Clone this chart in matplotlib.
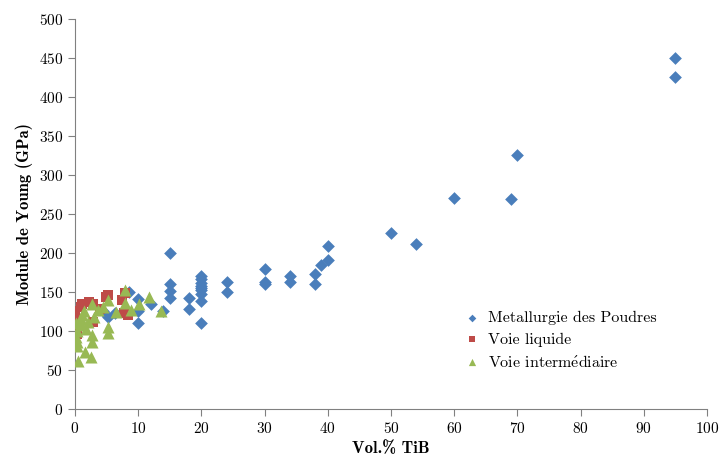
import matplotlib
matplotlib.use("Agg")
import matplotlib.pyplot as plt

plt.rcParams['font.family'] = ['cmr10', 'DejaVu Serif']
plt.rcParams['axes.formatter.use_mathtext'] = True
plt.rcParams['mathtext.fontset'] = 'cm'

# ---------------- donnees ----------------
mp_x = [95, 95, 70, 69, 60, 54, 50, 40, 40, 39, 38, 38, 34, 34, 30, 30, 30,
        24, 24, 20, 20, 20, 20, 20, 20, 20, 20, 20, 18, 18, 15, 15, 15, 15,
        14, 12, 10, 10, 10, 8.6, 6.3, 5.3, 4.5]
mp_y = [450, 425, 326, 269, 271, 211, 226, 209, 191, 184, 173, 160, 171, 163, 179, 163, 160,
        163, 150, 170, 166, 162, 158, 155, 152, 147, 138, 110, 142, 128, 200, 160, 151, 142,
        126, 135, 141, 125, 110, 150, 123, 118, 125]

vl_x = [0, 0, 0, 0, 0.3, 1, 1.1, 2.3, 2.9, 2.9, 4, 5, 5.3, 7.7, 7.9, 8.4, 7.5]
vl_y = [126, 118, 110, 102, 96, 130, 134, 137, 135, 112, 128, 144, 146, 123, 148, 120, 140]

vi_x = [0.5, 2.5, 1.6, 0.3, 0.3, 0.2, 0.4, 2.7, 2.7, 5.3, 5.3, 1, 1, 1.2, 1.5, 2.7, 3.7,
        5.3, 7.9, 7.9, 8.9, 10.2, 11.8, 13.6, 0.2, 2, 3, 4.5, 6.5, 1.8]
vi_y = [62, 66, 73, 80, 86, 92, 100, 95, 86, 97, 105, 108, 115, 120, 125, 135, 127,
        140, 152, 136, 127, 135, 143, 126, 110, 112, 118, 130, 124, 103]

fig, ax = plt.subplots(figsize=(7.2, 4.62), dpi=100)
fig.subplots_adjust(left=0.104, right=0.982, bottom=0.115, top=0.959)

ax.scatter(mp_x, mp_y, marker='D', s=42, color='#4a7ebb', linewidths=0, label='Metallurgie des Poudres', zorder=3)
ax.scatter(vl_x, vl_y, marker='s', s=60, color='#be4b48', linewidths=0, label='Voie liquide', zorder=3)
ax.scatter(vi_x, vi_y, marker='^', s=75, color='#98b954', linewidths=0,
           label=r'Voie interm$\mathrm{\acute{e}}$diaire', zorder=4)

ax.set_xlim(0, 100)
ax.set_ylim(0, 500)
ax.set_xticks(range(0, 101, 10))
ax.set_yticks(range(0, 501, 50))
ax.spines['top'].set_visible(False)
ax.spines['right'].set_visible(False)
ax.spines['left'].set_color('#808080')
ax.spines['bottom'].set_color('#808080')
ax.tick_params(direction='out', length=5, color='#808080', labelsize=11)

ax.set_xlabel('Vol.% TiB', fontsize=12, family=['cmb10', 'DejaVu Serif'])
ax.set_ylabel('Module de Young (GPa)', fontsize=12, family=['cmb10', 'DejaVu Serif'])

ax.legend(loc='lower left', bbox_to_anchor=(0.59, 0.08), frameon=False, fontsize=11.5,
          handletextpad=0.0, labelspacing=0.45, markerscale=0.6, borderpad=0)

fig.savefig('out.png', dpi=100)
